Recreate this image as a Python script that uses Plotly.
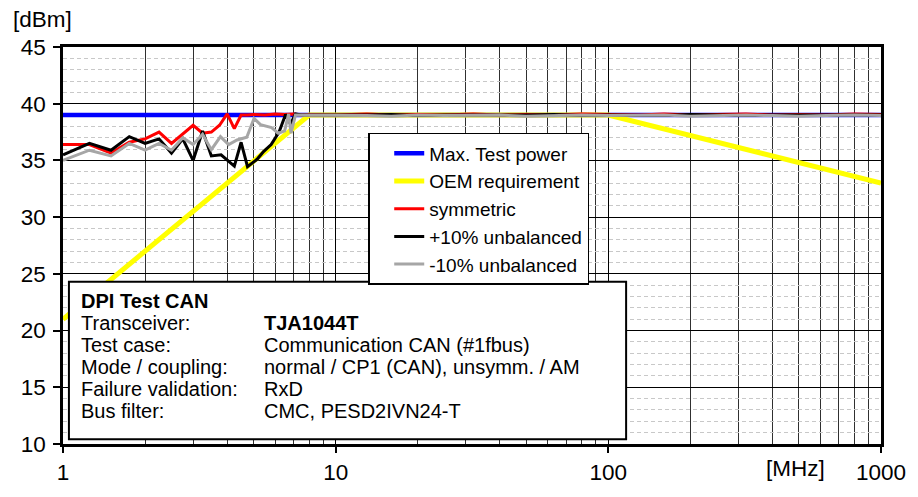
import plotly.graph_objects as go

# Frequency axis labels (MHz)
x_ticks = [1, 10, 100, 1000]
x_tick_text = ["1", "10", "100", "1000"]

# Maximum test power and OEM requirement limit lines
max_f = [1, 1000]
max_v = [39, 39]
oem_f = [1, 8, 100, 1000]
oem_v = [21, 39, 39, 33]

# Shared high-frequency sweep points (MHz)
f_high = [8, 10, 13, 16, 20, 25, 32, 40, 50, 63, 80, 100, 130, 160, 200, 250,
          320, 400, 500, 630, 800, 1000]

# symmetric
sym_f = [1, 1.25, 1.5, 1.75, 2, 2.25, 2.5, 2.75, 3, 3.25, 3.5, 3.75, 4, 4.25,
         4.5, 4.75, 5, 5.5, 6, 6.5, 7, 7.5]
sym_v = [36.4, 36.4, 35.65, 36.6, 36.9, 37.5, 36.5, 37.3, 38.1, 37.4, 37.5, 38.1,
         39.1, 37.8, 39.0, 39.0, 39.05, 39.0, 39.1, 39.05, 39.1, 39.0]
sym_hi = [39.05, 39.0, 39.1, 39.0, 39.05, 39.0, 39.1, 39.0, 39.05, 39.0, 39.1,
          39.05, 39.0, 39.1, 39.0, 39.05, 39.1, 39.0, 39.05, 39.0, 39.1, 39.05]

# +10% unbalanced
pos_f = [1, 1.25, 1.5, 1.75, 2, 2.25, 2.5, 2.75, 3, 3.25, 3.5, 3.8, 4.25, 4.5,
         4.75, 5.15, 5.45, 5.8, 6.2, 6.55, 6.83, 7.12, 7.5]
pos_v = [35.5, 36.5, 35.9, 37.1, 36.5, 36.9, 35.65, 36.9, 35.0, 37.6, 35.4, 35.5,
         34.5, 36.6, 34.45, 35.1, 35.8, 36.4, 37.5, 39.05, 38.2, 39.1, 39.0]
pos_hi = [39.0, 38.95, 39.0, 39.05, 38.95, 39.0, 39.0, 38.95, 39.0, 39.05, 38.95,
          39.0, 39.0, 38.95, 39.05, 39.0, 38.95, 39.0, 39.0, 38.95, 39.0, 39.0]

# -10% unbalanced
neg_f = [1, 1.25, 1.5, 1.75, 2, 2.25, 2.5, 2.75, 3, 3.25, 3.5, 3.78, 4.05, 4.35,
         4.72, 5.02, 5.3, 5.82, 6.16, 6.5, 6.72, 6.86, 7.12, 7.5]
neg_v = [35.0, 35.9, 35.4, 36.5, 35.9, 36.5, 35.9, 37.0, 36.4, 37.3, 35.95, 37.1,
         36.4, 36.8, 37.05, 38.7, 38.15, 37.9, 37.4, 37.6, 39.1, 37.4, 39.0, 39.0]
neg_hi = [38.95, 39.0, 38.95, 38.9, 39.0, 38.95, 38.95, 39.0, 38.9, 38.95, 39.0,
          38.95, 38.95, 39.0, 38.9, 38.95, 39.0, 38.95, 38.9, 38.95, 39.0, 38.95]

# Test description box
info_rows = [
    ("Transceiver:", "<b>TJA1044T</b>"),
    ("Test case:", "Communication CAN (#1fbus)"),
    ("Mode / coupling:", "normal / CP1 (CAN), unsymm. / AM"),
    ("Failure validation:", "RxD"),
    ("Bus filter:", "CMC, PESD2IVN24-T"),
]
info_title = "DPI Test CAN"

FONT = "Liberation Sans, Arial, sans-serif"

fig = go.Figure()
fig.add_trace(go.Scatter(x=max_f, y=max_v, mode="lines", name="Max. Test power",
                         line=dict(color="#0000FF", width=4.5)))
fig.add_trace(go.Scatter(x=oem_f, y=oem_v, mode="lines", name="OEM requirement",
                         line=dict(color="#FFFF00", width=5)))
fig.add_trace(go.Scatter(x=sym_f + f_high, y=sym_v + sym_hi, mode="lines",
                         name="symmetric", line=dict(color="#FF0000", width=3)))
fig.add_trace(go.Scatter(x=pos_f + f_high, y=pos_v + pos_hi, mode="lines",
                         name="+10% unbalanced", line=dict(color="#000000", width=3)))
fig.add_trace(go.Scatter(x=neg_f + f_high, y=neg_v + neg_hi, mode="lines",
                         name="-10% unbalanced", line=dict(color="#A6A6A6", width=3)))

minor_x = [m * d for d in (1, 10, 100) for m in range(2, 10)]

fig.update_xaxes(
    type="log", range=[0, 3],
    tickvals=x_ticks, ticktext=x_tick_text,
    ticks="outside", ticklen=6, tickwidth=2, tickcolor="black",
    tickfont=dict(family=FONT, size=22.5, color="black"),
    showline=True, linecolor="black", linewidth=2.5, mirror=True,
    showgrid=True, gridcolor="black", gridwidth=1, zeroline=False,
    minor=dict(tickvals=minor_x, showgrid=True, gridcolor="#303030", gridwidth=1),
)
fig.update_yaxes(
    range=[10, 45], tick0=10, dtick=5,
    ticks="outside", ticklen=7, tickwidth=2, tickcolor="black",
    ticklabelstandoff=3,
    tickfont=dict(family=FONT, size=22.5, color="black"),
    showline=True, linecolor="black", linewidth=2.5, mirror=True,
    showgrid=True, gridcolor="black", gridwidth=1, zeroline=False,
    minor=dict(dtick=1, showgrid=True, gridcolor="#C8C8C8", gridwidth=1,
               griddash="4px,3px"),
)

# pixel helpers for the plot area (l=63, r=891, t=47, b=458)
L, R, T, B = 63, 891, 47, 458
def px(x):
    return (x - L) / (R - L)
def py(y):
    return (B - y) / (B - T)

fig.add_shape(type="rect", xref="paper", yref="paper",
              x0=px(69), x1=px(633), y0=py(453), y1=py(290),
              fillcolor="white", line=dict(color="black", width=2), layer="above")

ann = []
ann.append(dict(x=px(79), y=py(310), text=f"<b>{info_title}</b>", xanchor="left",
                yanchor="middle", font=dict(size=20)))
row_y = [333, 355, 378, 401, 424]
for (lab, val), yy in zip(info_rows, row_y):
    ann.append(dict(x=px(79), y=py(yy), text=lab, xanchor="left", yanchor="middle",
                    font=dict(size=20)))
    ann.append(dict(x=px(264), y=py(yy), text=val, xanchor="left", yanchor="middle",
                    font=dict(size=20)))
ann.append(dict(x=px(42), y=py(19), text="[dBm]", xanchor="center", yanchor="middle",
                font=dict(size=22.5)))
ann.append(dict(x=px(804), y=py(483), text="[MHz]", xanchor="center", yanchor="middle",
                font=dict(size=22.5)))
for a in ann:
    a.update(xref="paper", yref="paper", showarrow=False)
    a["font"].update(family=FONT, color="black")

fig.update_layout(
    width=918, height=497,
    margin=dict(l=L, r=918 - R, t=T, b=497 - B),
    plot_bgcolor="white", paper_bgcolor="white",
    font=dict(family=FONT, color="black"),
    annotations=ann,
    legend=dict(x=px(372), y=py(136), xanchor="left", yanchor="top",
                bgcolor="white", bordercolor="black", borderwidth=1.5,
                font=dict(family=FONT, size=19, color="black"),
                title=dict(text="\u00a0\u00a0", side="left",
                           font=dict(family=FONT, size=17)),
                itemwidth=30, entrywidth=195, entrywidthmode="pixels",
                traceorder="normal"),
    showlegend=True,
)

fig.write_html("out.html")
